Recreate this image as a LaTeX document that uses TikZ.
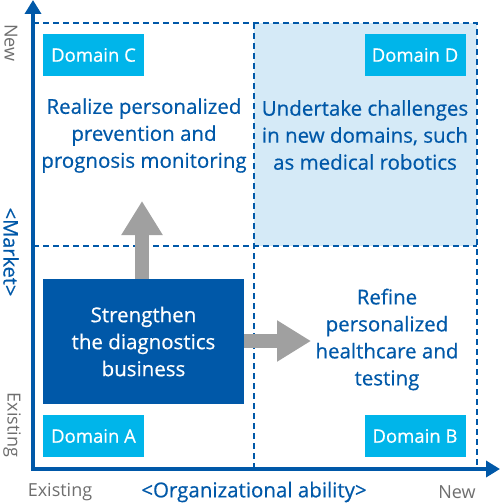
\documentclass[tikz,border=0pt]{standalone}
\usepackage{fontspec}
\setmainfont{Open Sans}
\newfontfamily\medfont[FakeBold=0.5]{Open Sans}
\usetikzlibrary{arrows.meta}
\begin{document}
\begin{tikzpicture}[x=1pt, y=-1pt, >={Triangle[length=14pt, width=16pt]},
	every node/.style={inner sep=0pt, align=center},
	body/.style={text=dblue, font=\medfont\fontsize{20.5}{27}\selectfont},
	domainbox/.style={fill=cyanbox, text=white, minimum width=101pt, minimum height=42pt, font=\medfont\fontsize{18.5}{20}\selectfont},
	axlabel/.style={text=axgray, font=\fontsize{18}{20}\selectfont},
	gridline/.style={dblue, line width=1.3pt, dash pattern=on 6pt off 4pt},
	push/.style={draw=arrowgray, line width=14pt, -{Triangle[length=34pt, width=39pt]}}]
	\definecolor{dblue}{RGB}{0, 88, 168}
	\definecolor{cyanbox}{RGB}{0, 181, 234}
	\definecolor{paleblue}{RGB}{213, 234, 247}
	\definecolor{arrowgray}{RGB}{160, 160, 160}
	\definecolor{axgray}{RGB}{110, 110, 110}
	\useasboundingbox (0,0) rectangle (500,503);
	% quadrants
	\fill[paleblue] (254,23) rectangle (477,246);
	\draw[gridline] (33,23) -- (477,23) -- (477,469);
	\draw[gridline] (254,23) -- (254,469);
	\draw[gridline] (33,246) -- (477,246);
	% axes
	\draw[<->, dblue, line width=3.5pt] (33,0) -- (33,469) -- (500,469);
	\node[axlabel, rotate=-90] (yNew) at (11,43) {New};
	\node[text=dblue, font=\medfont\fontsize{20}{22}\selectfont, rotate=-90] (market) at (11,252) {<Market>};
	\node[axlabel, rotate=-90] (yOld) at (12,425) {Existing};
	\node[axlabel] (xOld) at (60,492) {Existing};
	\node[text=dblue, font=\medfont\fontsize{20.5}{22}\selectfont] (ability) at (254,492) {<Organizational ability>};
	\node[axlabel] (xNew) at (457,492) {New};
	% domains
	\node[domainbox] (domC) at (93.5,55) {Domain C};
	\node[domainbox] (domD) at (415,55) {Domain D};
	\node[domainbox] (domA) at (93.5,436) {Domain A};
	\node[domainbox] (domB) at (415,436) {Domain B};
	\node[body] (goalC) at (144,135.5) {Realize personalized\\prevention and\\prognosis monitoring};
	\node[body] (goalD) at (365,135) {Undertake challenges\\in new domains, such\\as medical robotics};
	\node[body] (goalB) at (387,339.5) {Refine\\personalized\\healthcare and\\testing};
	\node[fill=dblue, text=white, font=\medfont\fontsize{20.5}{27}\selectfont, minimum width=201pt, minimum height=125pt] (core) at (143.5,341.5) {Strengthen\\the diagnostics\\business};
	% growth arrows
	\coordinate (upTip) at (142,201);
	\coordinate (rightTip) at (311,341);
	\draw[push] (upTip |- core.north) -- (upTip);
	\draw[push] (core.east |- rightTip) -- (rightTip);
\end{tikzpicture}
\end{document}
